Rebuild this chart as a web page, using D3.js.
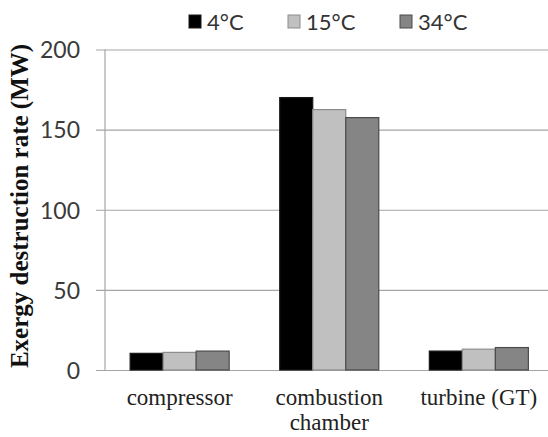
<!DOCTYPE html>
<html>
<head>
<meta charset="utf-8">
<script src="https://cdn.jsdelivr.net/npm/d3@7"></script>
<style>
  html, body { margin: 0; padding: 0; background: #fff; }
  svg { display: block; }
  .serif { font-family: "Liberation Serif", "DejaVu Serif", serif; }
</style>
</head>
<body>
<div id="chart"></div>
<script>
// Exergy destruction rate per component at three ambient temperatures
const categories = ["compressor", "combustion chamber", "turbine (GT)"];
const seriesNames = ["4°C", "15°C", "34°C"];
const values4C  = [10.4, 170.0, 11.8];
const values15C = [11.0, 162.5, 13.0];
const values34C = [11.8, 157.5, 14.0];
const yTicks = [0, 50, 100, 150, 200];
const yTitle = "Exergy destruction rate (MW)";

const seriesValues = [values4C, values15C, values34C];
const colors = ["#000000", "#c0c0c0", "#858585"];
const strokes = ["#1a1a1a", "#8c8c8c", "#4a4a4a"];

const W = 548, H = 437;
const svg = d3.select("#chart").append("svg")
  .attr("width", W).attr("height", H);

const x0 = d3.scaleBand().domain(categories)
  .range([105, 553.5]).paddingInner(0.338).paddingOuter(0.168);
const x1 = d3.scaleBand().domain(seriesNames)
  .range([0, x0.bandwidth()]).padding(0);
const y = d3.scaleLinear().domain([0, 200]).range([370, 49.5]);

// horizontal gridlines with short tick stubs left of the axis
const yAxis = d3.axisLeft(y).tickValues(yTicks).tickSize(-(W - 96)).tickFormat(d => d);
const gy = svg.append("g").attr("transform", "translate(96,0)").call(yAxis);
gy.select(".domain").remove();
gy.selectAll(".tick line").attr("stroke", "#a6a6a6").attr("stroke-width", 1.2);
gy.selectAll(".tick text")
  .attr("x", -16).attr("dy", "0.36em")
  .attr("fill", "#3a3a3a")
  .style("font-family", "Lato, 'Open Sans', sans-serif")
  .style("font-size", "23px");

// vertical axis line
svg.append("line")
  .attr("x1", 105).attr("x2", 105)
  .attr("y1", y(200)).attr("y2", y(0))
  .attr("stroke", "#a6a6a6").attr("stroke-width", 1.2);

// bars
const groups = svg.append("g").selectAll("g")
  .data(categories).join("g")
  .attr("transform", d => `translate(${x0(d)},0)`);

groups.selectAll("rect")
  .data((d, i) => seriesNames.map((s, k) => ({ s, k, v: seriesValues[k][i] })))
  .join("rect")
  .attr("x", d => x1(d.s))
  .attr("y", d => y(d.v))
  .attr("width", x1.bandwidth())
  .attr("height", d => y(0) - y(d.v))
  .attr("fill", d => colors[d.k])
  .attr("stroke", d => strokes[d.k])
  .attr("stroke-width", 1.2);

// category labels (wrapped onto two lines where needed)
const labelWraps = { "combustion chamber": ["combustion", "chamber"] };
const catLabels = svg.append("g").selectAll("text")
  .data(categories).join("text")
  .attr("class", "serif")
  .attr("x", d => x0(d) + x0.bandwidth() / 2)
  .attr("y", 405)
  .attr("text-anchor", "middle")
  .attr("fill", "#222")
  .attr("font-size", 23);
catLabels.each(function(d) {
  const lines = labelWraps[d] || [d];
  const t = d3.select(this);
  lines.forEach((ln, i) => {
    t.append("tspan")
      .attr("class", "serif")
      .attr("x", x0(d) + x0.bandwidth() / 2)
      .attr("dy", i === 0 ? 0 : 25)
      .text(ln);
  });
});

// y-axis title
svg.append("text")
  .attr("class", "serif")
  .attr("transform", "translate(28,206) rotate(-90)")
  .attr("text-anchor", "middle")
  .attr("fill", "#111")
  .attr("font-weight", "bold")
  .attr("font-size", 25)
  .text(yTitle);

// legend
const legendX = [189, 288, 400];
const legend = svg.append("g").selectAll("g")
  .data(seriesNames).join("g")
  .attr("transform", (d, i) => `translate(${legendX[i]},15)`);
legend.append("rect")
  .attr("width", 12).attr("height", 13)
  .attr("fill", (d, i) => colors[i])
  .attr("stroke", (d, i) => strokes[i]).attr("stroke-width", 1);
legend.append("text")
  .attr("x", 18).attr("y", 15)
  .attr("fill", "#333")
  .style("font-family", "Lato, 'Open Sans', sans-serif")
  .style("font-size", "22px")
  .text(d => d);
</script>
</body>
</html>
